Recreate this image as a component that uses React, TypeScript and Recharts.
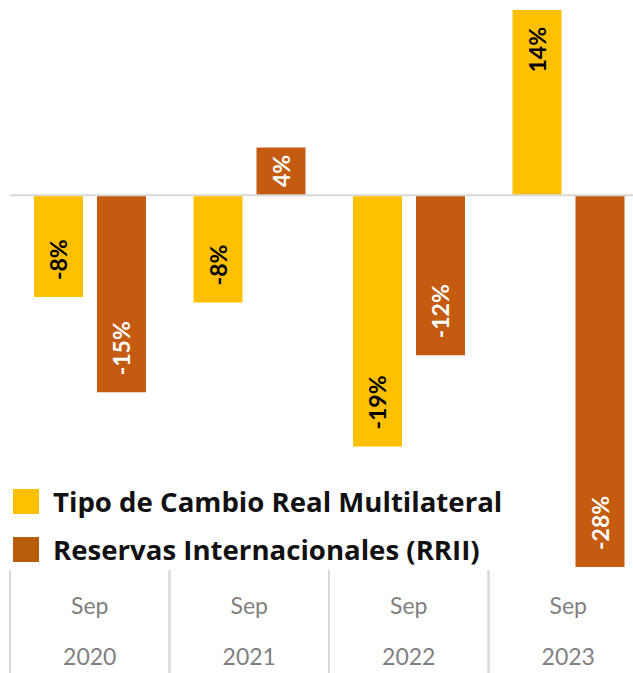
import React from 'react';
import { BarChart, Bar, XAxis, YAxis, ReferenceLine, LabelList } from 'recharts';

const years = ['2020', '2021', '2022', '2023'];
const months = ['Sep', 'Sep', 'Sep', 'Sep'];
const tcrm = [-7.7, -8.1, -19.0, 14.0];
const rrii = [-14.9, 3.6, -12.1, -28.1];

const seriesNames = ['Tipo de Cambio Real Multilateral', 'Reservas Internacionales (RRII)'];
const YELLOW = '#FFC000';
const ORANGE = '#C55A11';
const LEGEND_ORANGE = '#B65E0B';

const data = years.map((y, i) => ({ year: y, month: months[i], tcrm: tcrm[i], rrii: rrii[i] }));

const CHART_W = 650;
const CHART_H = 673;
const MARGIN = { top: 10, right: 2, left: 10, bottom: 0 };
const BAND = (CHART_W - MARGIN.left - MARGIN.right) / years.length;

// rotated label, pinned near the bar's outer end (centred if the bar is short)
const BarLabel: React.FC<any> = ({ x, y, width, height, value, color }) => {
  const top = Math.min(y, y + height);
  const bottom = Math.max(y, y + height);
  const len = bottom - top;
  const text = `${Math.round(value)}%`;
  const est = text.length * 11 + 11;
  const off = Math.min(17, Math.max(2, (len - est) / 2));
  const cx = x + width / 2;
  const ay = value >= 0 ? top + off : bottom - off;
  return (
    <text
      x={cx}
      y={ay}
      transform={`rotate(-90, ${cx}, ${ay})`}
      textAnchor={value >= 0 ? 'end' : 'start'}
      dominantBaseline="central"
      fill={color}
      fontFamily="Lato, sans-serif"
      fontWeight={700}
      fontSize={23}
    >
      {text}
    </text>
  );
};

const AxisTick: React.FC<any> = ({ x, y, payload, index }) => {
  const d = data[index];
  const left = x - BAND / 2;
  return (
    <g>
      <line x1={left} x2={left} y1={y + 3} y2={y + 110} stroke="#d9d9d9" strokeWidth={2} />
      <line x1={left + BAND} x2={left + BAND} y1={y + 3} y2={y + 110} stroke="#d9d9d9" strokeWidth={2} />
      <text x={x} y={y + 38} textAnchor="middle" dominantBaseline="central" fill="#7f7f7f" fontFamily="Lato, sans-serif" fontSize={23}>
        {d ? d.month : ''}
      </text>
      <text x={x} y={y + 89} textAnchor="middle" dominantBaseline="central" fill="#7f7f7f" fontFamily="Lato, sans-serif" fontSize={23}>
        {payload.value}
      </text>
    </g>
  );
};

const LegendBox: React.FC = () => {
  const colors = [YELLOW, LEGEND_ORANGE];
  return (
    <div style={{ position: 'absolute', left: 13, top: 477, fontFamily: '"Open Sans", sans-serif', fontWeight: 700, fontSize: 27.6, color: '#111', whiteSpace: 'nowrap' }}>
      {seriesNames.map((n, i) => (
        <div key={n} style={{ display: 'flex', alignItems: 'center', height: 48 }}>
          <span style={{ display: 'inline-block', width: 26, height: 25, background: colors[i], marginRight: 14 }} />
          <span>{n}</span>
        </div>
      ))}
    </div>
  );
};

export default function App() {
  return (
    <div style={{ position: 'fixed', left: 0, top: 0, width: 633, height: 673, overflow: 'hidden', background: '#fff' }}>
      <BarChart width={CHART_W} height={CHART_H} data={data} margin={MARGIN} barSize={49} barGap={14}>
        <YAxis hide domain={[-28.1, 14]} type="number" allowDataOverflow />
        <XAxis dataKey="year" height={106} axisLine={false} tickLine={false} tickSize={0} tickMargin={0} tick={<AxisTick />} interval={0} />
        <ReferenceLine y={0} stroke="#d9d9d9" strokeWidth={2} />
        <Bar dataKey="tcrm" name={seriesNames[0]} fill={YELLOW} isAnimationActive={false}>
          <LabelList dataKey="tcrm" content={<BarLabel color="#000" />} />
        </Bar>
        <Bar dataKey="rrii" name={seriesNames[1]} fill={ORANGE} isAnimationActive={false}>
          <LabelList dataKey="rrii" content={<BarLabel color="#fff" />} />
        </Bar>
      </BarChart>
      <LegendBox />
    </div>
  );
}
